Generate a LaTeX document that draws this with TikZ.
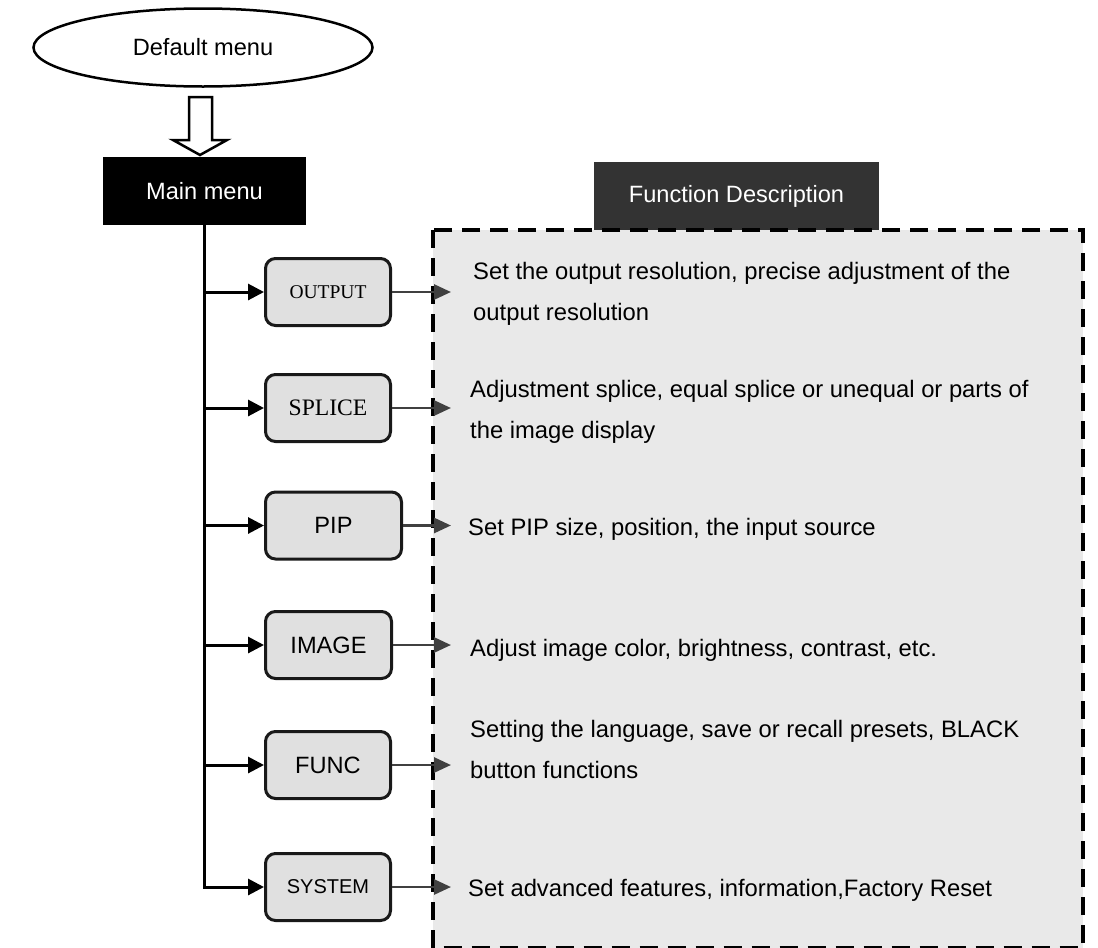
\documentclass[tikz,border=0pt]{standalone}
\usepackage{fontspec}
\setmainfont{Liberation Sans}
\newfontfamily\tnr{Liberation Serif}
\usetikzlibrary{arrows.meta,shapes.geometric}
\definecolor{itemgray}{RGB}{224,224,224}
\definecolor{panelgray}{RGB}{233,233,233}
\definecolor{headgray}{RGB}{51,51,51}
\definecolor{arrowgray}{RGB}{64,64,64}
\tikzset{
  item/.style={draw=black!90,line width=3pt,rounded corners=10pt,fill=itemgray,minimum height=67pt,inner sep=0pt},
  desc/.style={anchor=base west,align=left,inner sep=0pt,font=\fontsize{23.8}{41}\selectfont},
  toitem/.style={line width=3pt,-{Triangle[length=16pt,width=16pt]}},
  todesc/.style={line width=2.8pt,draw=arrowgray,-{Triangle[length=17pt,width=15pt]}},
}
\begin{document}
\begin{tikzpicture}[x=1pt,y=-1pt,font=\fontsize{23.6}{28}\selectfont]
\useasboundingbox (0,0) rectangle (1098,948);
\node[ellipse,draw,line width=2.5pt,minimum width=339pt,minimum height=78pt,inner sep=0pt] (dflt) at (203,47.5) {Default menu};
\draw[line width=2.5pt] (189,97) -- (212,97) -- (212,140) -- (227,140) -- (200,155) -- (173,140) -- (189,140) -- cycle;
\node[fill=black,text=white,minimum width=203pt,minimum height=68pt,inner sep=0pt] (main) at (204.5,191) {Main menu};
% description panel
\node[fill=headgray,text=white,minimum width=285pt,minimum height=68pt,inner sep=0pt] (fdesc) at (736.5,196) {Function Description};
\draw[fill=panelgray,line width=4pt,dash pattern=on 18pt off 10pt] (433,230) rectangle (1083,947.5);
\coordinate (tip) at (451,0);
\draw[line width=3pt,line cap=rect] (main.south) -- (204.5,887);
\foreach \n/\y/\w/\t in {output/292/128/{\tnr\fontsize{19.5}{20}\selectfont OUTPUT},splice/408/128/{\tnr SPLICE},pip/525.5/139/PIP,image/645/129/IMAGE,func/765/128/FUNC,system/887/128/{\fontsize{20}{22}\selectfont SYSTEM}} {
  \node[item,minimum width=\w pt-3pt] (\n) at (264+\w/2,\y) {\t};
  \draw[toitem] (main.south |- \n.west) -- (\n.west);
  \draw[todesc] (\n.east) -- (\n.east -| tip);
}
% two-line texts sit on the baseline of their last line
\node[desc] (d1) at (473,320) {Set the output resolution, precise adjustment of the\\output resolution};
\node[desc] (d2) at (470,438) {Adjustment splice, equal splice or unequal or parts of\\the image display};
\node[desc] (d3) at (468,535) {Set PIP size, position, the input source};
\node[desc] (d4) at (470,656) {Adjust image color, brightness, contrast, etc.};
\node[desc] (d5) at (470,778) {Setting the language, save or recall presets, BLACK\\button functions};
\node[desc] (d6) at (468,896) {Set advanced features, information,Factory Reset};
\end{tikzpicture}
\end{document}
